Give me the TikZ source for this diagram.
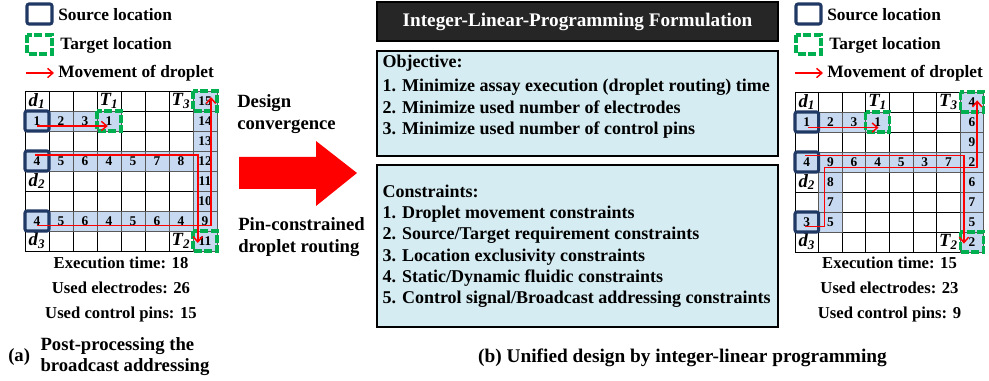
\documentclass[tikz,border=0pt]{standalone}
\usepackage{fontspec}
\setmainfont{Liberation Serif}
\usepackage{xcolor}
\usepackage{tikz}
\usetikzlibrary{positioning}
\usetikzlibrary{arrows.meta}
\definecolor{cellblue}{RGB}{198,217,240}
\definecolor{srcblue}{RGB}{31,56,100}
\definecolor{tgtgreen}{RGB}{0,176,80}
\definecolor{boxcyan}{RGB}{213,236,242}
\definecolor{headgray}{RGB}{38,38,38}
\tikzset{
    cell/.style = {fill=cellblue, draw=gray!70!black, line width=0.7pt},
    gridline/.style = {draw=black, line width=0.5pt},
    num/.style = {inner sep=0pt, font=\fontsize{10}{10}\selectfont\bfseries},
    lbl/.style = {inner sep=0pt, font=\fontsize{14}{14}\selectfont\bfseries\itshape},
    srcbox/.style = {draw=srcblue, line width=2.3pt, rounded corners=1.5pt},
    tgtbox/.style = {draw=tgtgreen, line width=2.3pt, dash pattern=on 6pt off 1.8pt},
    route/.style = {draw=red, line width=1.1pt, -{Straight Barb[length=4pt,width=7pt]}},
    legtext/.style = {anchor=west, inner sep=0pt, font=\fontsize{13}{13}\selectfont\bfseries},
    stat/.style = {align=center, inner sep=0pt, font=\fontsize{12.5}{18.75}\selectfont\bfseries},
    capt/.style = {align=left, inner sep=0pt, font=\fontsize{14}{15.75}\selectfont\bfseries},
    side/.style = {anchor=west, align=left, inner sep=0pt, font=\fontsize{14}{16.75}\selectfont\bfseries},
    ilphead/.style = {draw=black, line width=0.8pt, fill=headgray, text=white, inner sep=0pt,
                      minimum width=300.75pt, minimum height=29.25pt, font=\fontsize{14.4}{16}\selectfont\bfseries},
    ilpbox/.style = {draw=black, line width=1.1pt, fill=boxcyan, minimum width=300.75pt, inner sep=0pt},
    ilptext/.style = {align=left, inner sep=0pt, font=\fontsize{13.5}{16}\selectfont\bfseries},
}
\begin{document}
\begin{tikzpicture}[
    x=0.75pt,
    y=-0.75pt,
    font=\bfseries
  ]
  \useasboundingbox (0,0) rectangle (989,381);

  \foreach \dx/\side in {0/L,769/R} {
    \draw[srcbox] (27+\dx,4) rectangle (52+\dx,24);
    \node[legtext] (\side-src) at (58+\dx,15) {Source location};
    \draw[tgtbox] (27+\dx,35) rectangle (52+\dx,54);
    \node[legtext] (\side-tgt) at (60+\dx,45) {Target location};
    \coordinate (\side-m0) at (26+\dx,73);
    \coordinate (\side-m1) at (54+\dx,73);
    \draw[route] (\side-m0) -- (\side-m1);
    \node[legtext] (\side-mov) at (58+\dx,73) {Movement of droplet};
  }

  \begin{scope}[shift={(25,91)}, x=18pt, y=-15pt]
    \foreach \i in {0,...,8} {
      \draw[gridline] (\i,0) -- (\i,8);
      \draw[gridline] (0,\i) -- (8,\i);
    }
    \foreach \c/\r in {0/1,1/1,2/1,3/1,0/3,1/3,2/3,3/3,4/3,5/3,6/3,0/6,1/6,2/6,3/6,4/6,5/6,6/6,
                       7/0,7/1,7/2,7/3,7/4,7/5,7/6,7/7}
      \path[cell] (\c,\r) rectangle ++(1,1);
    \foreach \c/\r/\n in {7/0/15, 0/1/1,1/1/2,2/1/3,3/1/1,7/1/14, 7/2/13,
                          0/3/4,1/3/5,2/3/6,3/3/4,4/3/5,5/3/7,6/3/8,7/3/12, 7/4/11, 7/5/10,
                          0/6/4,1/6/5,2/6/6,3/6/4,4/6/5,5/6/6,6/6/4,7/6/9, 7/7/11}
      \node[num] (L-\c-\r) at (\c+.5,\r+.5) {\n};
    \node[lbl] (L-d1) at (0.5,0.5) {d\textsubscript{1}};
    \node[lbl] (L-T1) at (3.5,0.5) {T\textsubscript{1}};
    \node[lbl] (L-T3) at (6.5,0.5) {T\textsubscript{3}};
    \node[lbl] (L-d2) at (0.5,4.5) {d\textsubscript{2}};
    \node[lbl] (L-d3) at (0.5,7.5) {d\textsubscript{3}};
    \node[lbl] (L-T2) at (6.5,7.5) {T\textsubscript{2}};
    \draw[srcbox] (0,1) rectangle ++(1,1);
    \draw[srcbox] (0,3) rectangle ++(1,1);
    \draw[srcbox] (0,6) rectangle ++(1,1);
    \draw[tgtbox] (3,1) rectangle ++(1,1);
    \draw[tgtbox] (7,0) rectangle ++(1,1);
    \draw[tgtbox] (7,7) rectangle ++(1,1);
    \coordinate (L-s1) at (0.5,1.75);
    \coordinate (L-t1) at (3.45,1.75);
    \coordinate (L-s2) at (0.42,3.2);
    \coordinate (L-t2) at (7.2,7.6);
    \coordinate (L-s3) at (0.5,6.72);
    \coordinate (L-t3) at (7.75,0.3);
    \draw[route] (L-s1) -- (L-t1);
    \draw[route] (L-s2) -| (L-t2);
    \draw[route] (L-s3) -| (L-t3);
  \end{scope}

  \begin{scope}[shift={(795,92)}, x=17.7pt, y=-15pt]
    \foreach \i in {0,...,8} {
      \draw[gridline] (\i,0) -- (\i,8);
      \draw[gridline] (0,\i) -- (8,\i);
    }
    \foreach \c/\r in {0/1,1/1,2/1,3/1,0/3,1/3,2/3,3/3,4/3,5/3,6/3,1/4,1/5,0/6,1/6,
                       7/0,7/1,7/2,7/3,7/4,7/5,7/6,7/7}
      \path[cell] (\c,\r) rectangle ++(1,1);
    \foreach \c/\r/\n in {7/0/4, 0/1/1,1/1/2,2/1/3,3/1/1,7/1/6, 7/2/9,
                          0/3/4,1/3/9,2/3/6,3/3/4,4/3/5,5/3/3,6/3/7,7/3/2, 1/4/8,7/4/6, 1/5/7,7/5/7,
                          0/6/3,1/6/5,7/6/5, 7/7/2}
      \node[num] (R-\c-\r) at (\c+.5,\r+.5) {\n};
    \node[lbl] (R-d1) at (0.5,0.5) {d\textsubscript{1}};
    \node[lbl] (R-T1) at (3.5,0.5) {T\textsubscript{1}};
    \node[lbl] (R-T3) at (6.5,0.5) {T\textsubscript{3}};
    \node[lbl] (R-d2) at (0.5,4.5) {d\textsubscript{2}};
    \node[lbl] (R-d3) at (0.5,7.5) {d\textsubscript{3}};
    \node[lbl] (R-T2) at (6.5,7.5) {T\textsubscript{2}};
    \draw[srcbox] (0,1) rectangle ++(1,1);
    \draw[srcbox] (0,3) rectangle ++(1,1);
    \draw[srcbox] (0,6) rectangle ++(1,1);
    \draw[tgtbox] (3,1) rectangle ++(1,1);
    \draw[tgtbox] (7,0) rectangle ++(1,1);
    \draw[tgtbox] (7,7) rectangle ++(1,1);
    \coordinate (R-s1) at (0.56,1.78);
    \coordinate (R-t1) at (3.54,1.78);
    \coordinate (R-s2) at (0.42,3.17);
    \coordinate (R-t2) at (7.16,7.58);
    \coordinate (R-s3) at (0.42,6.72);
    \coordinate (R-b3) at (1.26,3.78);
    \coordinate (R-t3) at (7.72,0.42);
    \draw[route] (R-s1) -- (R-t1);
    \draw[route] (R-s2) -| (R-t2);
    \draw[route] (R-s3) -| (R-b3) -| (R-t3);
  \end{scope}

  \node[stat] (L-stats) at (121,289) {Execution time: 18\\Used electrodes: 26\\Used control pins: 15};
  \node[stat] (R-stats) at (889.5,289) {Execution time: 15\\Used electrodes: 23\\Used control pins: 9};

  \node[capt, anchor=west] (capa) at (8,357) {(a)};
  \node[capt, right=7.5pt of capa] (capa-text) {Post-processing the\\broadcast addressing};

  \node[side] (conv) at (237,114) {Design\\convergence};
  \node[side] (pin) at (238,237) {Pin-constrained\\droplet routing};
  \fill[red] (239,157) -- (316,157) -- (316,141) -- (357,173) -- (316,206) -- (316,189) -- (239,189) -- cycle;

  \node[ilphead] (ilp) at (577.5,21.5) {Integer-Linear-Programming Formulation};
  \node[ilpbox, minimum height=78.75pt] (obj) at (577.5,103.5) {};
  \node[ilptext, below right=3.5pt and 4.5pt of obj.north west] (obj-text)
    {Objective:\\[2pt]
     1. Minimize assay execution (droplet routing) time\\
     2. Minimize used number of electrodes\\
     3. Minimize used number of control pins};
  \node[ilpbox, minimum height=121.5pt] (con) at (577.5,246) {};
  \node[ilptext, below right=15pt and 4.5pt of con.north west] (con-text)
    {Constraints:\\
     1. Droplet movement constraints\\
     2. Source/Target requirement constraints\\
     3. Location exclusivity constraints\\
     4. Static/Dynamic fluidic constraints\\
     5. Control signal/Broadcast addressing constraints};
  \node[capt, font=\fontsize{14.5}{16}\selectfont\bfseries] (capb) at (682.5,358)
    {(b) Unified design by integer-linear programming};
\end{tikzpicture}
\end{document}
